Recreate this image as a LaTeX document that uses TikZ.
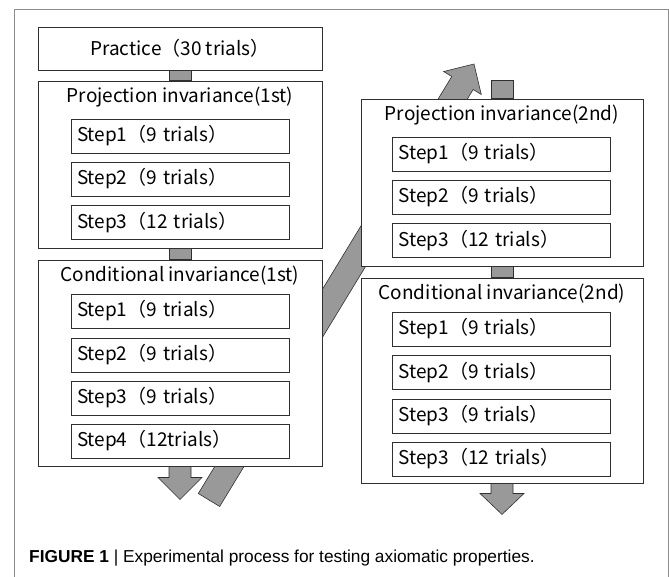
\documentclass[tikz,border=0pt]{standalone}
\usepackage{fontspec}
\setmainfont{Liberation Sans}
\newfontfamily\jpfont{Noto Sans CJK JP}
\usetikzlibrary{calc}

\definecolor{boxline}{HTML}{303030}
\definecolor{linkfill}{HTML}{999999}
\definecolor{framegray}{HTML}{8C8C8C}

\tikzset{
  frame/.style={draw=boxline, line width=0.9pt, fill=white, inner sep=0pt},
  stepbox/.style={frame, minimum height=34pt, text width=206pt, inner xsep=6pt, align=left, font=\jpfont\fontsize{19}{22}\selectfont},
  title/.style={font=\jpfont\fontsize{19}{22}\selectfont, inner sep=0pt},
  link/.style={fill=linkfill, draw=boxline, line width=0.6pt, line join=miter},
}

\begin{document}
\begin{tikzpicture}[x=1pt, y=-1pt]
\useasboundingbox (0,0) rectangle (669,577);
\draw[framegray, line width=0.9pt] (14,590) -- (14,9) -- (668,9) -- (668,590);

% long arrow from the first run to the second
\coordinate (abase) at (209,500);
\coordinate (atip) at (474,64);
\coordinate (aneck) at ($(abase)!488pt!(atip)$);
\draw[link] ($(abase)!12.5pt!90:(atip)$) -- ($(aneck)!12.5pt!90:(atip)$)
  -- ($(aneck)!22pt!90:(atip)$) -- (atip) -- ($(aneck)!22pt!-90:(atip)$)
  -- ($(aneck)!12.5pt!-90:(atip)$) -- ($(abase)!12.5pt!-90:(atip)$) -- cycle;

% first run
\node[frame, minimum width=284pt, minimum height=43pt, font=\jpfont\fontsize{19}{22}\selectfont] (practice) at (180,48.5) {Practice（30 trials）};
\node[frame, minimum width=284pt, minimum height=167pt] (proj1) at (180,164.5) {};
\node[title] (proj1title) at (180,97) {Projection invariance(1st)};
\node[stepbox] (p1s1) at (180,136) {Step1（9 trials）};
\node[stepbox] (p1s2) at (180,179) {Step2（9 trials）};
\node[stepbox] (p1s3) at (180,222.5) {Step3（12 trials）};

\node[frame, minimum width=284pt, minimum height=206pt] (cond1) at (180,363) {};
\node[title] (cond1title) at (180,276) {Conditional invariance(1st)};
\node[stepbox] (c1s1) at (180,311) {Step1（9 trials）};
\node[stepbox] (c1s2) at (180,355) {Step2（9 trials）};
\node[stepbox] (c1s3) at (180,398) {Step3（9 trials）};
\node[stepbox] (c1s4) at (180,441) {Step4（12trials）};

% second run
\node[frame, minimum width=282pt, minimum height=167pt] (proj2) at (502,182.5) {};
\node[title] (proj2title) at (502,115) {Projection invariance(2nd)};
\node[stepbox] (p2s1) at (501.5,154) {Step1（9 trials）};
\node[stepbox] (p2s2) at (501.5,197) {Step2（9 trials）};
\node[stepbox] (p2s3) at (501.5,240.5) {Step3（12 trials）};

\node[frame, minimum width=282pt, minimum height=205pt] (cond2) at (502,380.5) {};
\node[title] (cond2title) at (502,294) {Conditional invariance(2nd)};
\node[stepbox] (c2s1) at (501.5,329) {Step1（9 trials）};
\node[stepbox] (c2s2) at (501.5,372.5) {Step2（9 trials）};
\node[stepbox] (c2s3) at (501.5,416) {Step3（9 trials）};
\node[stepbox] (c2s4) at (501.5,459) {Step3（12 trials）};

% links
\draw[link] ([xshift=-11pt]practice.south) rectangle ([xshift=11pt]proj1.north);
\draw[link] ([xshift=-11pt]proj1.south) rectangle ([xshift=11pt]cond1.north);
\draw[link] ([xshift=-11pt]proj2.south) rectangle ([xshift=11pt]cond2.north);
\coordinate (rtop) at (502,80);
\draw[link] ([xshift=-11pt]rtop) rectangle ([xshift=11pt]proj2.north);
\draw[link] ([xshift=-11pt]cond1.south) -- ++(0,11) -- ++(-11,0) -- ++(22,22)
  -- ++(22,-22) -- ++(-11,0) -- ++(0,-11) -- cycle;
\draw[link] ([xshift=-11pt]cond2.south) -- ++(0,10) -- ++(-11,0) -- ++(22,21)
  -- ++(22,-21) -- ++(-11,0) -- ++(0,-10) -- cycle;

\node[anchor=west, inner sep=0pt, font=\fontsize{17.3}{20}\selectfont] (caption) at (29,558)
  {\textbf{FIGURE 1} | Experimental process for testing axiomatic properties.};
\end{tikzpicture}
\end{document}
